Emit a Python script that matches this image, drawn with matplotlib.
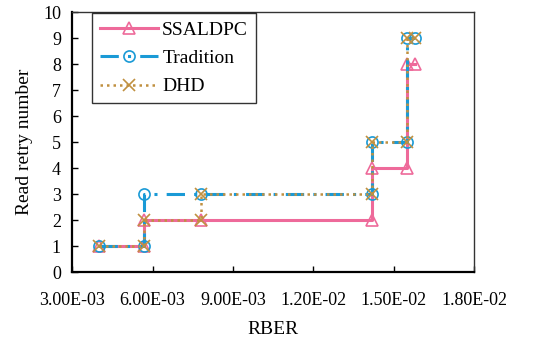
import matplotlib
matplotlib.use("Agg")
from matplotlib import pyplot as plt

plt.rcParams['font.family'] = ['Liberation Serif', 'DejaVu Serif']

# step points (RBER, read retry number)
ssaldpc_x = [4.0e-3, 5.7e-3, 5.7e-3, 7.8e-3, 14.2e-3, 14.2e-3, 15.5e-3, 15.5e-3, 15.8e-3]
ssaldpc_y = [1, 1, 2, 2, 2, 4, 4, 8, 8]
tradition_x = [4.0e-3, 5.7e-3, 5.7e-3, 7.8e-3, 14.2e-3, 14.2e-3, 15.5e-3, 15.5e-3, 15.8e-3]
tradition_y = [1, 1, 3, 3, 3, 5, 5, 9, 9]
dhd_x = [4.0e-3, 5.7e-3, 5.7e-3, 7.8e-3, 7.8e-3, 14.2e-3, 14.2e-3, 15.5e-3, 15.5e-3, 15.8e-3]
dhd_y = [1, 1, 2, 2, 3, 3, 5, 5, 9, 9]

x_ticks = [3e-3, 6e-3, 9e-3, 12e-3, 15e-3, 18e-3]
x_labels = ["3.00E-03", "6.00E-03", "9.00E-03", "1.20E-02", "1.50E-02", "1.80E-02"]
y_ticks = list(range(0, 11))

fig = plt.figure(figsize=(5.34, 3.38), dpi=100)
ax = fig.add_axes([0.135, 0.195, 0.753, 0.769])

ax.plot(ssaldpc_x, ssaldpc_y, '-', color='#EE6A9A', lw=2.2, marker='^',
        ms=8, mfc='none', mec='#EE6A9A', mew=1.2, label='SSALDPC')
ax.plot(tradition_x, tradition_y, color='#1A9AD6', lw=2.2, ls=(0, (6, 3, 1, 3)),
        marker='o', ms=8, mfc='none', mec='#1A9AD6', mew=1.2, label='Tradition')
ax.plot(dhd_x, dhd_y, color='#C09040', lw=1.8, ls=(0, (1, 1.6)),
        marker='x', ms=8, mec='#C09040', mew=1.2, label='DHD')

ax.set_xlim(3e-3, 18e-3)
ax.set_ylim(0, 10)
ax.set_xticks(x_ticks)
ax.set_xticklabels(x_labels)
ax.set_yticks(y_ticks)
ax.tick_params(direction='in', labelsize=13, length=4, width=1)
ax.tick_params(axis='x', pad=14)
ax.tick_params(axis='y', pad=8)
ax.set_xlabel("RBER", fontsize=14, labelpad=9)
ax.set_ylabel("Read retry number", fontsize=14, labelpad=7)

for side in ['left', 'bottom']:
    ax.spines[side].set_linewidth(1.6)
for side in ['top', 'right']:
    ax.spines[side].set_linewidth(1.0)
    ax.spines[side].set_color('#333333')

leg = ax.legend(loc='upper left', bbox_to_anchor=(0.05, 0.995), fontsize=14,
                handlelength=3.0, fancybox=False, edgecolor='black',
                borderpad=0.4, labelspacing=0.55, handletextpad=0.2,
                borderaxespad=0)
leg.get_frame().set_linewidth(1.0)

fig.savefig("out.png", dpi=100)
